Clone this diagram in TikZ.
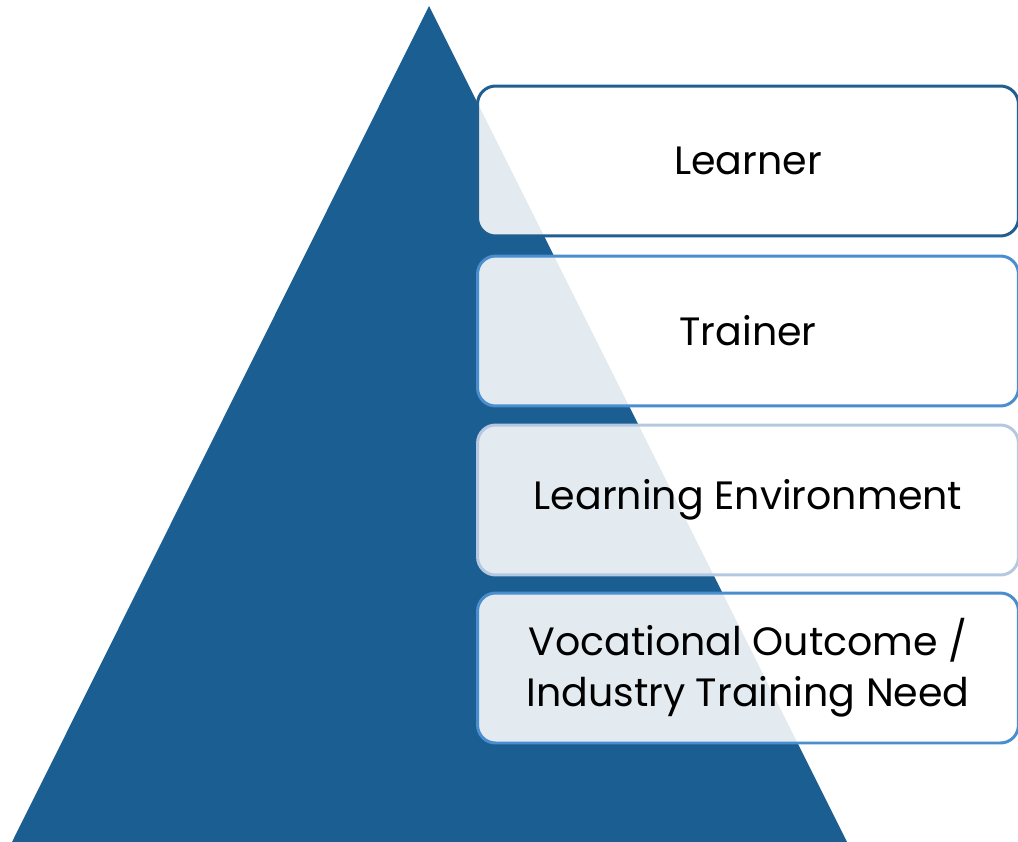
\documentclass[tikz,border=0pt]{standalone}
\usepackage{fontspec}
\setmainfont{Poppins}
\definecolor{pyramid}{HTML}{1B5E91}
\definecolor{edgeA}{HTML}{1F5E91}
\definecolor{edgeB}{HTML}{4A8ED0}
\definecolor{edgeC}{HTML}{B4C8E2}
\begin{document}
\begin{tikzpicture}[x=0.02cm, y=-0.02cm]
  \tikzstyle{level}=[draw, line width=1.7pt, rounded corners=0.36cm, fill=white, fill opacity=0.88, text opacity=1,
    minimum width=10.82cm, minimum height=3cm, inner sep=0pt, align=center, font=\fontsize{22.5}{29}\selectfont]
  \useasboundingbox (0, 0) rectangle (1018, 842);

  \coordinate (top) at (429, 6);
  \coordinate (bl) at (12, 842);
  \coordinate (br) at (847, 842);
  \fill[pyramid] (top) -- (br) -- (bl) -- cycle;

  \node[level, draw=edgeA] (b1) at (748, 161) {Learner};
  \node[level, draw=edgeB] (b2) at (748, 331) {Trainer};
  \node[level, draw=edgeC] (b3) at (748, 500) {Learning Environment};
  \node[level, draw=edgeB] (b4) at (748, 668) {Vocational Outcome /\\Industry Training Need};
\end{tikzpicture}
\end{document}
